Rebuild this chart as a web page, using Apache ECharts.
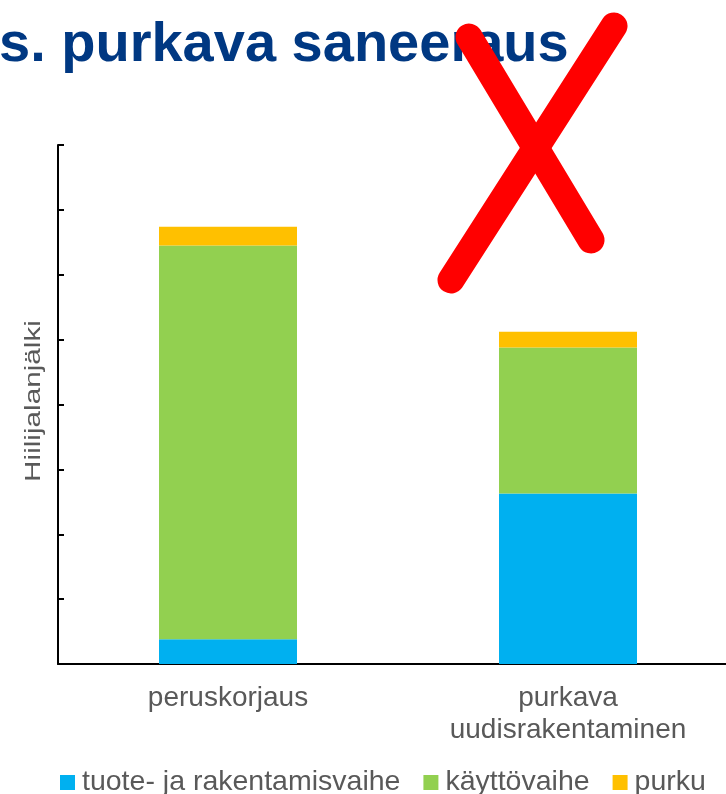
<!DOCTYPE html>
<html>
<head>
<meta charset="utf-8">
<script src="https://cdn.jsdelivr.net/npm/echarts@6/dist/echarts.min.js"></script>
<style>
  html, body { margin: 0; padding: 0; background: #fff; }
  #main { width: 726px; height: 794px; }
</style>
</head>
<body>
<div id="main"></div>
<script>
const categories = ['peruskorjaus', 'purkava\nuudisrakentaminen']
const seriesNames = ['tuote- ja rakentamisvaihe', 'käyttövaihe', 'purku']
const tuoteValues = [0.38, 2.63]
const kayttoValues = [6.07, 2.25]
const purkuValues = [0.29, 0.24]

const colors = ['#00B0F0', '#92D050', '#FFC000']
const font = 'Liberation Sans, Arial, sans-serif'

const chart = echarts.init(document.getElementById('main'))

const option = {
  animation: false,
  title: {
    text: 's. purkava saneeraus',
    left: -1,
    top: 18,
    padding: 0,
    textStyle: { fontSize: 56, fontWeight: 'bold', fontFamily: font, color: '#003882' }
  },
  // kuvaaja jatkuu oikean reunan yli
  grid: { left: 58, width: 680, top: 145, bottom: 130, outerBoundsMode: 'none', containLabel: false },
  legend: {
    top: 768,
    left: 60,
    padding: 0,
    itemWidth: 15,
    itemHeight: 15,
    itemGap: 23,
    icon: 'rect',
    textStyle: { fontSize: 28.5, fontFamily: font, color: '#595959', padding: [0, 0, 0, 2] },
    data: seriesNames
  },
  xAxis: {
    type: 'category',
    data: categories,
    axisLine: { lineStyle: { color: '#000', width: 2 } },
    axisTick: { show: false },
    axisLabel: { fontSize: 28, fontFamily: font, color: '#595959', margin: 18, lineHeight: 32 }
  },
  yAxis: {
    type: 'value',
    min: 0,
    max: 8,
    interval: 1,
    axisLine: { show: true, lineStyle: { color: '#000', width: 2 } },
    axisTick: { show: true, inside: true, length: 6, lineStyle: { color: '#000', width: 2 } },
    axisLabel: { show: false },
    splitLine: { show: false }
  },
  series: [
    { name: seriesNames[0], type: 'bar', stack: 'total', barWidth: 138, data: tuoteValues, itemStyle: { color: colors[0] } },
    { name: seriesNames[1], type: 'bar', stack: 'total', data: kayttoValues, itemStyle: { color: colors[1] } },
    { name: seriesNames[2], type: 'bar', stack: 'total', data: purkuValues, itemStyle: { color: colors[2] } }
  ],
  graphic: [
    // akselin nimi, venytetty kuten alkuperäisessä
    {
      type: 'text', x: 34, y: 401, rotation: Math.PI / 2, scaleX: 1.35,
      style: { text: 'Hiilijalanjälki', fontSize: 22, fontFamily: font, fill: '#595959', align: 'center', verticalAlign: 'middle' }
    },
    // punainen rasti
    { type: 'line', z: 100, shape: { x1: 469, y1: 37, x2: 591, y2: 240 }, style: { stroke: '#FF0000', lineWidth: 27, lineCap: 'round' } },
    { type: 'line', z: 100, shape: { x1: 614, y1: 26, x2: 451, y2: 280 }, style: { stroke: '#FF0000', lineWidth: 27, lineCap: 'round' } }
  ]
}

chart.setOption(option)
</script>
</body>
</html>
